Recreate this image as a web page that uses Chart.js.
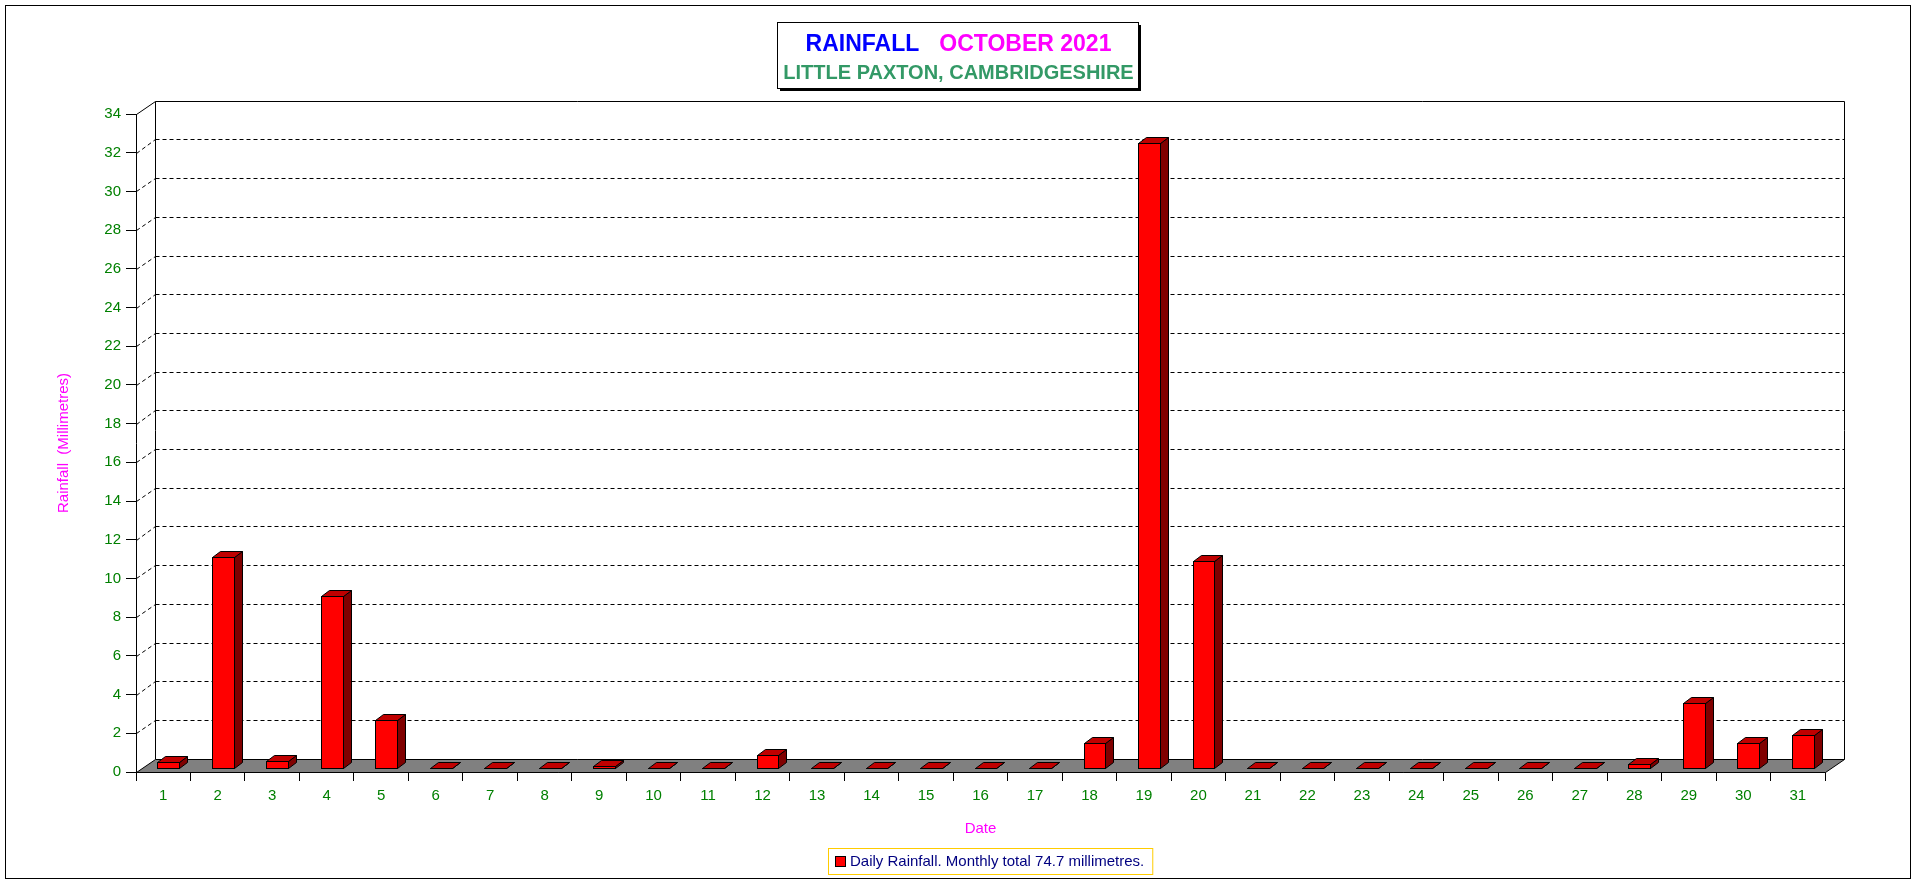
<!DOCTYPE html>
<html>
<head>
<meta charset="utf-8">
<title>Rainfall October 2021</title>
<script src="https://cdn.jsdelivr.net/npm/chart.js@4/dist/chart.umd.min.js"></script>
<style>
body { margin: 0; background: #fff; }
canvas { display: block; }
</style>
</head>
<body>
<canvas id="rainChart" width="1916" height="884"></canvas>
<script>
// daily values (mm)
var days = ['1', '2', '3', '4', '5', '6', '7', '8', '9', '10', '11', '12', '13', '14', '15', '16',
    '17', '18', '19', '20', '21', '22', '23', '24', '25', '26', '27', '28', '29', '30', '31'];
var rainfall = [0.3, 10.9, 0.4, 8.9, 2.5, 0, 0, 0, 0.1, 0, 0, 0.7, 0, 0, 0, 0,
    0, 1.3, 32.3, 10.7, 0, 0, 0, 0, 0, 0, 0, 0.2, 3.4, 1.3, 1.7];
var yMin = 0;
var yMax = 34;
var yStep = 2;

var titleWord = 'RAINFALL';
var titleMonth = 'OCTOBER 2021';
var subTitle = 'LITTLE PAXTON, CAMBRIDGESHIRE';
var yTitle = 'Rainfall  (Millimetres)';
var xTitle = 'Date';
var legendText = 'Daily Rainfall. Monthly total 74.7 millimetres.';

var FONT = '"Liberation Sans", Arial, sans-serif';
var GREEN = '#008000';
var MAGENTA = '#FF00FF';

// 3d look
var DEPTH_X = 18.7, DEPTH_Y = 13.3;
var BAR_SHIFT_X = 5, BAR_SHIFT_Y = 3.7, BAR_DX = 8.3, BAR_DY = 5.9;

function px(v) {
    return Math.round(v) + 0.5;
}

var wallPlugin = {
    id: 'wall',
    beforeDraw: function(chart) {
        var ctx = chart.ctx;
        ctx.save();
        ctx.fillStyle = '#fff';
        ctx.fillRect(0, 0, chart.width, chart.height);
        ctx.strokeStyle = '#000';
        ctx.lineWidth = 1;
        ctx.strokeRect(5.5, 5.5, 1905, 873);
        ctx.restore();
    },
    beforeDatasetsDraw: function(chart) {
        var ctx = chart.ctx;
        var a = chart.chartArea;
        var y = chart.scales.y;
        var bl = px(a.left + DEPTH_X), br = px(a.right + DEPTH_X);
        var bt = px(a.top - DEPTH_Y), bb = px(a.bottom - DEPTH_Y);
        var fl = px(a.left), fr = px(a.right), ft = px(a.top), fb = px(a.bottom);

        ctx.save();
        ctx.strokeStyle = '#000';
        ctx.lineWidth = 1;

        // dashed grid on the back wall
        ctx.setLineDash([4, 3]);
        y.ticks.forEach(function(t) {
            if (t.value <= yMin || t.value >= yMax) return;
            var fy = y.getPixelForValue(t.value);
            var by = px(fy - DEPTH_Y);
            ctx.beginPath();
            ctx.moveTo(fl, px(fy));
            ctx.lineTo(bl, by);
            ctx.stroke();
            ctx.beginPath();
            ctx.moveTo(bl, by);
            ctx.lineTo(br, by);
            ctx.stroke();
        });
        ctx.setLineDash([]);

        // wall edges
        ctx.beginPath();
        ctx.moveTo(fl, ft);
        ctx.lineTo(bl, bt);
        ctx.lineTo(br, bt);
        ctx.lineTo(br, bb);
        ctx.moveTo(bl, bt);
        ctx.lineTo(bl, bb);
        ctx.stroke();

        // floor
        ctx.beginPath();
        ctx.moveTo(fl, fb);
        ctx.lineTo(bl, bb);
        ctx.lineTo(br, bb);
        ctx.lineTo(fr, fb);
        ctx.closePath();
        ctx.fillStyle = '#808080';
        ctx.fill();
        ctx.stroke();
        ctx.restore();
    },
    afterDatasetsDraw: function(chart) {
        var ctx = chart.ctx;
        var meta = chart.getDatasetMeta(0);
        ctx.save();
        ctx.strokeStyle = '#000';
        ctx.lineWidth = 1;
        ctx.lineJoin = 'miter';
        meta.data.forEach(function(bar) {
            var p = bar.getProps(['x', 'y', 'base', 'width'], true);
            var L = px(p.x - p.width / 2 + BAR_SHIFT_X);
            var R = px(p.x + p.width / 2 + BAR_SHIFT_X);
            var T = px(p.y - BAR_SHIFT_Y);
            var B = px(p.base - BAR_SHIFT_Y);
            var dx = Math.round(BAR_DX), dy = Math.round(BAR_DY);

            // side
            ctx.beginPath();
            ctx.moveTo(R, T);
            ctx.lineTo(R + dx, T - dy);
            ctx.lineTo(R + dx, B - dy);
            ctx.lineTo(R, B);
            ctx.closePath();
            ctx.fillStyle = '#800000';
            ctx.fill();
            ctx.stroke();

            // top
            ctx.beginPath();
            ctx.moveTo(L, T);
            ctx.lineTo(L + dx, T - dy);
            ctx.lineTo(R + dx, T - dy);
            ctx.lineTo(R, T);
            ctx.closePath();
            ctx.fillStyle = '#C00000';
            ctx.fill();
            ctx.stroke();

            // front
            ctx.fillStyle = '#FF0000';
            ctx.fillRect(L, T, R - L, B - T);
            ctx.strokeRect(L, T, R - L, B - T);
        });
        ctx.restore();
    },
    afterDraw: function(chart) {
        var ctx = chart.ctx;
        ctx.save();

        // title box with shadow
        var bx = 777, by = 22, bw = 361, bh = 66;
        ctx.fillStyle = '#000';
        ctx.fillRect(bx + 3, by + 3, bw, bh);
        ctx.fillStyle = '#fff';
        ctx.fillRect(bx, by, bw, bh);
        ctx.strokeStyle = '#000';
        ctx.lineWidth = 1;
        ctx.strokeRect(bx + 0.5, by + 0.5, bw, bh);

        var cx = bx + bw / 2 + 1;
        ctx.textBaseline = 'alphabetic';
        ctx.textAlign = 'left';
        ctx.font = 'bold 23px ' + FONT;
        var w1 = ctx.measureText(titleWord).width;
        var w2 = ctx.measureText(titleMonth).width;
        var gap = 20;
        var sx = cx - (w1 + gap + w2) / 2;
        ctx.fillStyle = '#0000FF';
        ctx.fillText(titleWord, sx, 51);
        ctx.fillStyle = MAGENTA;
        ctx.fillText(titleMonth, sx + w1 + gap, 51);

        ctx.font = 'bold 20px ' + FONT;
        ctx.textAlign = 'center';
        ctx.fillStyle = '#339966';
        ctx.fillText(subTitle, cx, 79);

        // legend
        ctx.font = '15px ' + FONT;
        var tw = ctx.measureText(legendText).width;
        var lw = tw + 30, lh = 26;
        var lx = Math.round(990 - lw / 2), ly = 848;
        ctx.strokeStyle = '#FFCC00';
        ctx.strokeRect(lx + 0.5, ly + 0.5, lw, lh);
        ctx.fillStyle = '#FF0000';
        ctx.fillRect(lx + 7, ly + 8, 10, 10);
        ctx.strokeStyle = '#000';
        ctx.strokeRect(lx + 7.5, ly + 8.5, 10, 10);
        ctx.fillStyle = '#000080';
        ctx.textAlign = 'left';
        ctx.textBaseline = 'middle';
        ctx.fillText(legendText, lx + 22, ly + lh / 2 + 1);

        ctx.restore();
    }
};

var ctx = document.getElementById('rainChart');
var rainChart = new Chart(ctx, {
    type: 'bar',
    data: {
        labels: days,
        datasets: [{
            label: legendText,
            data: rainfall,
            backgroundColor: 'rgba(0,0,0,0)',
            borderWidth: 0,
            categoryPercentage: 1.0,
            barPercentage: 0.4
        }]
    },
    options: {
        responsive: false,
        animation: false,
        layout: {
            padding: { left: 0, right: 91, top: 114, bottom: 0 }
        },
        plugins: {
            legend: { display: false },
            tooltip: { enabled: false },
            title: { display: false }
        },
        scales: {
            x: {
                offset: true,
                grid: {
                    display: true,
                    offset: true,
                    drawOnChartArea: false,
                    drawTicks: true,
                    tickLength: 9,
                    color: '#000'
                },
                border: { display: true, color: '#000' },
                ticks: {
                    color: GREEN,
                    font: { family: FONT, size: 15 },
                    padding: 6,
                    maxRotation: 0,
                    autoSkip: false
                },
                title: {
                    display: true,
                    text: xTitle,
                    color: MAGENTA,
                    font: { family: FONT, size: 15 },
                    padding: { top: 0, bottom: 46 }
                },
                afterFit: function(scale) {
                    scale.height = 112;
                }
            },
            y: {
                min: yMin,
                max: yMax,
                grid: {
                    display: true,
                    drawOnChartArea: false,
                    drawTicks: true,
                    tickLength: 10,
                    color: '#000'
                },
                border: { display: true, color: '#000' },
                ticks: {
                    stepSize: yStep,
                    color: GREEN,
                    font: { family: FONT, size: 15 },
                    padding: 5
                },
                title: {
                    display: true,
                    text: yTitle,
                    color: MAGENTA,
                    font: { family: FONT, size: 15 },
                    padding: { top: 55, bottom: 0 }
                },
                afterFit: function(scale) {
                    scale.width = 136;
                }
            }
        }
    },
    plugins: [wallPlugin]
});
</script>
</body>
</html>
